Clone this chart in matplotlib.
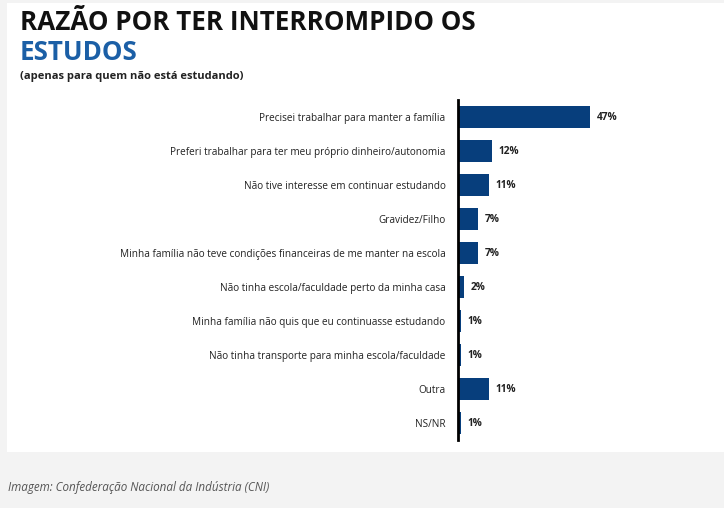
import matplotlib.pyplot as plt
from matplotlib.patches import Rectangle

# data
categories = [
    'Precisei trabalhar para manter a família',
    'Preferi trabalhar para ter meu próprio dinheiro/autonomia',
    'Não tive interesse em continuar estudando',
    'Gravidez/Filho',
    'Minha família não teve condições financeiras de me manter na escola',
    'Não tinha escola/faculdade perto da minha casa',
    'Minha família não quis que eu continuasse estudando',
    'Não tinha transporte para minha escola/faculdade',
    'Outra',
    'NS/NR',
]
values = [47, 12, 11, 7, 7, 2, 1, 1, 11, 1]
value_labels = ['47%', '12%', '11%', '7%', '7%', '2%', '1%', '1%', '11%', '1%']

W, H = 724, 508
bar_color = '#073e7c'
font = ['Open Sans', 'DejaVu Sans']

fig = plt.figure(figsize=(W / 100, H / 100), dpi=100)
fig.patch.set_facecolor('#f3f3f3')
fig.patches.append(Rectangle((7 / W, 1 - 452 / H), 1, (452 - 3) / H,
                             transform=fig.transFigure, facecolor='white',
                             edgecolor='none', zorder=-5))

# title block
fig.text(20 / W, 1 - 22 / H, 'RAZÃO POR TER INTERROMPIDO OS', fontsize=18.7,
         fontweight='bold', family=font, color='#111111', va='center')
fig.text(20 / W, 1 - 52 / H, 'ESTUDOS', fontsize=18.7, fontweight='bold',
         family=font, color='#1b5fa6', va='center')
fig.text(20 / W, 1 - 76 / H, '(apenas para quem não está estudando)', fontsize=8,
         fontweight='bold', family=font, color='#222222', va='center')

# bars
ax_left, ax_top, ax_bottom = 458, 100, 440
ax_w = 230
px_per_pct = 2.81
ax = fig.add_axes([ax_left / W, 1 - ax_bottom / H, ax_w / W, (ax_bottom - ax_top) / H])
ax.set_facecolor('none')
ax.set_zorder(5)
ypos = list(range(len(categories)))
ax.barh(ypos, values, height=0.65, color=bar_color)
ax.set_xlim(0, ax_w / px_per_pct)
ax.set_ylim(len(categories) - 0.5, -0.5)

for y, v, lab in zip(ypos, values, value_labels):
    ax.text(v + 2.5, y, lab, va='center', ha='left', fontsize=7.3,
            fontweight='bold', family=font, color='#222222')

ax.set_yticks(ypos)
ax.set_yticklabels(categories, fontsize=7.2, family=font, color='#222222')
ax.tick_params(axis='y', length=0, pad=9)
ax.set_xticks([])
for side in ['top', 'right', 'bottom']:
    ax.spines[side].set_visible(False)
ax.spines['left'].set_linewidth(2)
ax.spines['left'].set_color('black')

# caption
fig.text(8 / W, 1 - 488 / H, 'Imagem: Confederação Nacional da Indústria (CNI)',
         fontsize=8.4, style='italic', family=font, color='#555555', va='center')

fig.savefig('out.png', dpi=100, facecolor=fig.get_facecolor())
